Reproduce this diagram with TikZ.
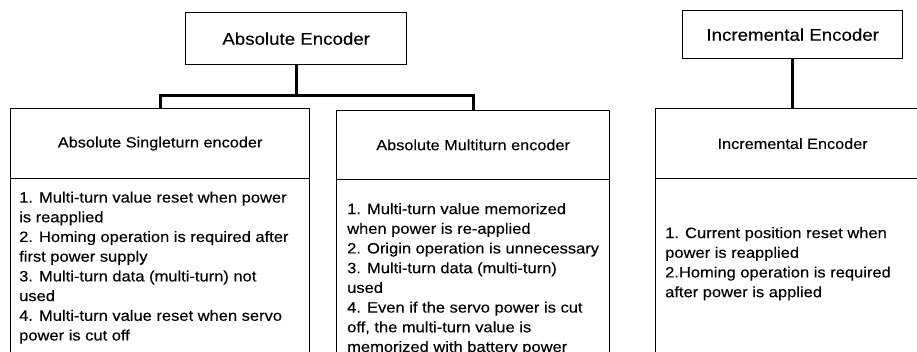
\documentclass[tikz,border=0pt]{standalone}
\usepackage{fontspec}
\setmainfont{Liberation Sans}[FakeStretch=1.1,FakeBold=0.25]
\begin{document}
\begin{tikzpicture}[x=1pt,y=-1pt,
  box/.style={draw, line width=1.3pt, inner sep=0pt, anchor=north west},
  titlefont/.style={font=\fontsize{17}{20}\selectfont},
  headfont/.style={font=\fontsize{14.8}{18}\selectfont},
  bodytext/.style={inner sep=0pt, anchor=north west, align=left, font=\fontsize{15}{19.7}\selectfont},
  conn/.style={line width=3.2pt}]
\useasboundingbox (0,0) rectangle (917,351);
\clip (0,0) rectangle (917,351);
% title boxes
\node[box, titlefont, minimum width=221pt, minimum height=52pt] (abs) at (185,12) {Absolute Encoder};
\node[box, titlefont, minimum width=220pt, minimum height=48pt] (inc) at (682,10) {Incremental Encoder};
% singleturn
\node[box, headfont, minimum width=299pt, minimum height=70pt] (sh) at (10,108) {Absolute Singleturn encoder};
\node[box, minimum width=299pt, minimum height=220pt] (sb) at (10,178) {};
\node[bodytext] (st) at (19,191.5) {1. Multi-turn value reset when power\\is reapplied\\2. Homing operation is required after\\first power supply\\3. Multi-turn data (multi-turn) not\\used\\4. Multi-turn value reset when servo\\power is cut off};
% multiturn
\node[box, headfont, minimum width=273pt, minimum height=69.5pt] (mh) at (336,109.5) {Absolute Multiturn encoder};
\node[box, minimum width=273pt, minimum height=220pt] (mb) at (336,179) {};
\node[bodytext] (mt) at (347,203) {1. Multi-turn value memorized\\when power is re-applied\\2. Origin operation is unnecessary\\3. Multi-turn data (multi-turn)\\used\\4. Even if the servo power is cut\\off, the multi-turn value is\\memorized with battery power};
% incremental
\node[box, headfont, minimum width=274pt, minimum height=70pt] (ih) at (655,108) {Incremental Encoder};
\node[box, minimum width=274pt, minimum height=220pt] (ib) at (655,178) {};
\node[bodytext] (it) at (665,227) {1. Current position reset when\\power is reapplied\\2.Homing operation is required\\after power is applied};
% connectors
\draw[conn] (abs.south) -- ++(0,30) coordinate (j);
\draw[conn] (sh.north) -- (sh.north |- j) -- (mh.north |- j) -- (mh.north);
\draw[conn] (inc.south) -- (inc.south |- ih.north);
\end{tikzpicture}
\end{document}
